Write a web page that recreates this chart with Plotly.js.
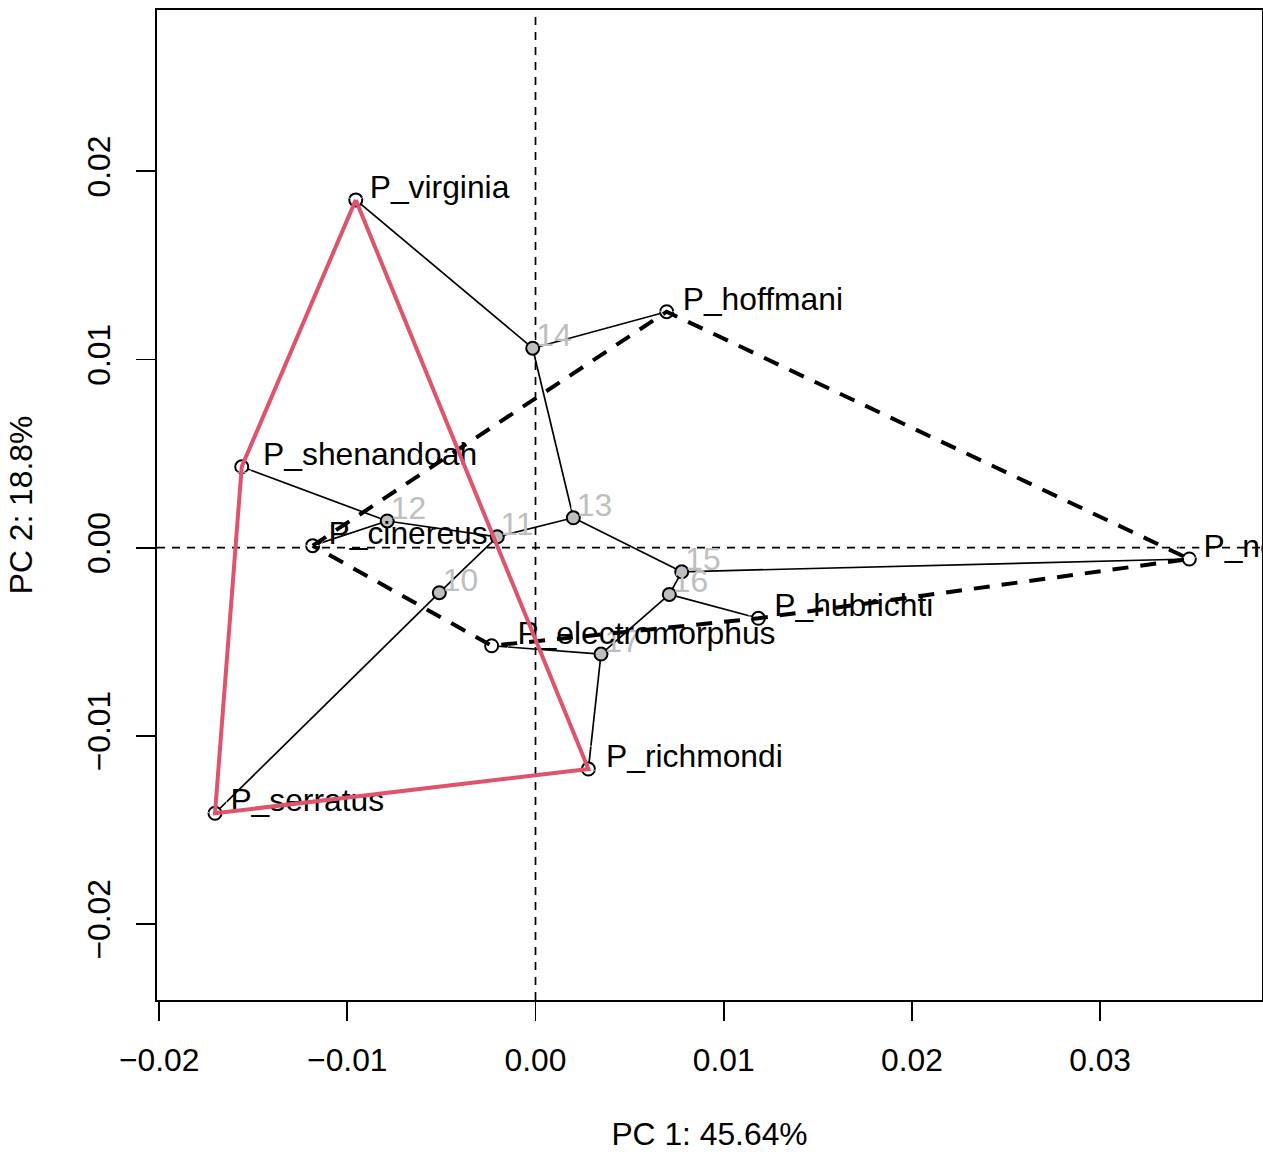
<!DOCTYPE html>
<html>
<head>
<meta charset="utf-8">
<script src="https://cdn.plot.ly/plotly-3.0.1.min.js"></script>
<style>
html, body { margin: 0; padding: 0; background: #ffffff; }
#chart { width: 1263px; height: 1152px; }
</style>
</head>
<body>
<div id="chart"></div>
<script>
// ---- data ----
const tipNames = ['P_serratus', 'P_shenandoah', 'P_cinereus', 'P_virginia', 'P_hoffmani',
                  'P_nettingi', 'P_hubrichti', 'P_electromorphus', 'P_richmondi'];
const tipPC1 = [-0.01703, -0.01561, -0.01184, -0.00955, 0.00697, 0.03474, 0.01184, -0.00233, 0.00281];
const tipPC2 = [-0.01411, 0.00430, 0.00011, 0.01848, 0.01254, -0.00060, -0.00375, -0.00521, -0.01176];

const nodeNames = ['10', '11', '12', '13', '14', '15', '16', '17'];
const nodePC1 = [-0.00511, -0.00203, -0.00788, 0.00201, -0.00015, 0.00777, 0.00711, 0.00348];
const nodePC2 = [-0.00239, 0.00058, 0.00142, 0.00159, 0.01060, -0.00128, -0.00248, -0.00565];

const edgeFrom = ['10', '10', '11', '11', '12', '12', '13', '13', '14', '14', '15', '15', '16', '16', '17', '17'];
const edgeTo = ['P_serratus', '11', '12', '13', 'P_shenandoah', 'P_cinereus', '14', '15',
                'P_virginia', 'P_hoffmani', 'P_nettingi', '16', 'P_hubrichti', '17', 'P_electromorphus', 'P_richmondi'];

const hullGroup1 = ['P_cinereus', 'P_hoffmani', 'P_nettingi', 'P_hubrichti', 'P_electromorphus'];
const hullGroup2 = ['P_virginia', 'P_richmondi', 'P_serratus', 'P_shenandoah'];

const xTicks = [-0.02, -0.01, 0.00, 0.01, 0.02, 0.03];
const yTicks = [-0.02, -0.01, 0.00, 0.01, 0.02];
const xTitle = 'PC 1: 45.64%';
const yTitle = 'PC 2: 18.8%';

// ---- layout constants ----
const W = 1263, H = 1152;
const M = { l: 157, r: 1, t: 10, b: 152 };
const xRange = [-0.020112, 0.038602];
const yRange = [-0.024033, 0.028571];
const FS = 31.8;
const FONT = '"Liberation Sans", Arial, Helvetica, sans-serif';
const RED = '#DF536B';
const GREY = '#BEBEBE';

// coordinate lookup
const pos = {};
tipNames.forEach((n, i) => { pos[n] = [tipPC1[i], tipPC2[i]]; });
nodeNames.forEach((n, i) => { pos[n] = [nodePC1[i], nodePC2[i]]; });

// tree edges as one line trace with gaps
const ex = [], ey = [];
edgeFrom.forEach((a, i) => {
  const b = edgeTo[i];
  ex.push(pos[a][0], pos[b][0], null);
  ey.push(pos[a][1], pos[b][1], null);
});

function closed(list) {
  const xs = list.map(n => pos[n][0]);
  const ys = list.map(n => pos[n][1]);
  xs.push(xs[0]); ys.push(ys[0]);
  return [xs, ys];
}
const h1 = closed(hullGroup1);
const h2 = closed(hullGroup2);

// label offset: R style adj = -0.1 -> horizontal offset of 10% of string width
const ctx = document.createElement('canvas').getContext('2d');
ctx.font = FS + 'px "Liberation Sans"';
function offsetSize(s) {
  const w = ctx.measureText(s).width;
  return Math.max(0, 1.6 * (0.1 * w - 1));
}
const plotH = H - M.t - M.b;
const yPerPx = (yRange[1] - yRange[0]) / plotH;
const shiftPx = 10;
const yRangeLab = [yRange[0] - shiftPx * yPerPx, yRange[1] - shiftPx * yPerPx];

const traces = [
  { x: ex, y: ey, mode: 'lines', type: 'scatter', xaxis: 'x', yaxis: 'y',
    line: { color: '#000000', width: 1.7 }, hoverinfo: 'skip', showlegend: false },
  { x: tipPC1, y: tipPC2, mode: 'markers', type: 'scatter', xaxis: 'x', yaxis: 'y',
    marker: { size: 13, color: '#ffffff', line: { color: '#000000', width: 2 } },
    hoverinfo: 'skip', showlegend: false },
  { x: nodePC1, y: nodePC2, mode: 'markers', type: 'scatter', xaxis: 'x', yaxis: 'y',
    marker: { size: 13, color: GREY, line: { color: '#000000', width: 2 } },
    hoverinfo: 'skip', showlegend: false },
  // labels (drawn on an overlay axis nudged up so text sits just above-right of the points)
  { x: nodePC1, y: nodePC2, text: nodeNames, mode: 'markers+text', type: 'scatter',
    xaxis: 'x', yaxis: 'y2', textposition: 'middle right',
    textfont: { family: FONT, size: FS, color: GREY },
    marker: { size: nodeNames.map(offsetSize), color: 'rgba(0,0,0,0)' },
    hoverinfo: 'skip', showlegend: false },
  { x: tipPC1, y: tipPC2, text: tipNames, mode: 'markers+text', type: 'scatter',
    xaxis: 'x', yaxis: 'y2', textposition: 'middle right',
    textfont: { family: FONT, size: FS, color: '#000000' },
    marker: { size: tipNames.map(offsetSize), color: 'rgba(0,0,0,0)' },
    hoverinfo: 'skip', showlegend: false },
  // hulls on top
  { x: h1[0], y: h1[1], mode: 'lines', type: 'scatter', xaxis: 'x', yaxis: 'y3',
    line: { color: '#000000', width: 4, dash: '16px,12px' }, hoverinfo: 'skip', showlegend: false },
  { x: h2[0], y: h2[1], mode: 'lines', type: 'scatter', xaxis: 'x', yaxis: 'y3',
    line: { color: RED, width: 4 }, hoverinfo: 'skip', showlegend: false }
];

const layout = {
  width: W, height: H,
  margin: M,
  paper_bgcolor: '#ffffff', plot_bgcolor: '#ffffff',
  font: { family: FONT, size: FS, color: '#000000' },
  showlegend: false,
  xaxis: {
    range: xRange, autorange: false, fixedrange: true,
    tickvals: xTicks, tickformat: '.2f',
    ticks: 'outside', ticklen: 19, tickwidth: 1.8, tickcolor: '#000000',
    showline: true, linecolor: '#000000', linewidth: 1.8, mirror: true,
    showgrid: false, zeroline: false,
    tickfont: { family: FONT, size: FS, color: '#000000' },
    ticklabelstandoff: 12,
    title: { text: xTitle, font: { family: FONT, size: FS, color: '#000000' }, standoff: 46 }
  },
  yaxis: {
    range: yRange, autorange: false, fixedrange: true,
    tickvals: yTicks, tickformat: '.2f', tickangle: -90,
    ticks: 'outside', ticklen: 19, tickwidth: 1.8, tickcolor: '#000000',
    showline: true, linecolor: '#000000', linewidth: 1.8, mirror: true,
    showgrid: false, zeroline: false,
    tickfont: { family: FONT, size: FS, color: '#000000' },
    ticklabelstandoff: 13,
    title: { text: yTitle, font: { family: FONT, size: FS, color: '#000000' }, standoff: 39 }
  },
  yaxis2: { overlaying: 'y', range: yRangeLab, autorange: false, fixedrange: true, visible: false },
  yaxis3: { overlaying: 'y', range: yRange, autorange: false, fixedrange: true, visible: false },
  shapes: [
    { type: 'line', xref: 'x', yref: 'paper', x0: 0, x1: 0, y0: 0, y1: 1, layer: 'below',
      line: { color: '#000000', width: 1.7, dash: '8px,7px' } },
    { type: 'line', xref: 'paper', yref: 'y', x0: 0, x1: 1, y0: 0, y1: 0, layer: 'below',
      line: { color: '#000000', width: 1.7, dash: '8px,7px' } }
  ]
};

Plotly.newPlot('chart', traces, layout, { staticPlot: true, displayModeBar: false });
</script>
</body>
</html>
